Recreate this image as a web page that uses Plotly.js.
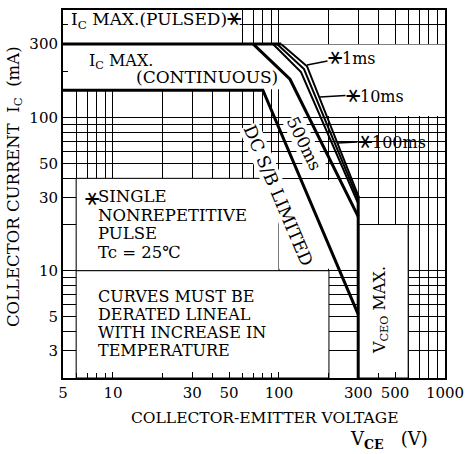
<!DOCTYPE html>
<html><head><meta charset="utf-8">
<script src="https://cdn.plot.ly/plotly-3.0.1.min.js"></script>
<style>html,body{margin:0;padding:0;background:#fff;}#chart{width:475px;height:454px;}</style>
</head><body><div id="chart"></div>
<script>
// ---- data (V in volts, I in mA) ----
const dcV = [5, 80, 300];
const dcI = [150, 150, 5.2];
const pulsedMaxV = [5, 103];
const pulsedMaxI = [300, 300];
const ms500V = [70, 116.5, 300];
const ms500I = [300, 177, 22.5];
const ms100V = [92, 135.7, 300];
const ms100I = [300, 197, 27.4];
const ms10V = [97.3, 141.5, 300];
const ms10I = [300, 206, 29.1];
const ms1V = [102.9, 147.5, 300];
const ms1I = [300, 215, 30.9];
const vceoV = [300, 300];
const vceoI = [2, 30.9];

const xTickVals = [5, 10, 30, 50, 100, 300, 500, 1000];
const xTickText = ['5', '10', '30', '50', '100', '300', '500', '1000'];
const xGrid = [5,6,7,8,9,10,20,30,40,50,60,70,80,90,100,200,300,400,500,600,700,800,900,1000];
const yTickVals = [3, 5, 10, 30, 50, 100, 300];
const yTickText = ['3', '5', '10', '30', '50', '100', '300'];
const yGrid = [2,3,4,5,6,7,8,9,10,20,30,40,50,60,70,80,90,100,200,300,400,500];

// ---- layout helpers ----
const W = 475, H = 454, M = {l:63, r:30, t:10, b:76};
const PW = W - M.l - M.r, PH = H - M.t - M.b;
const px = x => (x - M.l) / PW;
const py = y => (H - M.b - y) / PH;
const F = 'DejaVu Serif, Liberation Serif, serif';
const BLK = '#000';
const STAR = '<span style="font-size:24px">⚹</span>';

function fnt(s) { return {family:F, size:s, color:BLK}; }
function txt(text, x, y, o) {
  return Object.assign({xref:'paper', yref:'paper', x:px(x), y:py(y), text:text,
    showarrow:false, xanchor:'left', yanchor:'middle', borderpad:0,
    font:fnt(16)}, o || {});
}
// multi-line block: tight line pitch, larger glyphs
function block(lines, x, yFirst, pitch, size) {
  const base = pitch / 1.3;
  const text = lines.map(l => '<span style="font-size:' + size + 'px">' + l + '</span>').join('<br>');
  const yMid = yFirst + pitch * (lines.length - 1) / 2;
  return txt(text, x, yMid, {align:'left', font:fnt(base)});
}
function leader(text, tx, ty, cx, cy) {
  return {xref:'paper', yref:'paper', x:px(tx), y:py(ty), text:text,
    showarrow:true, arrowhead:0, arrowwidth:1.5, arrowcolor:BLK, standoff:0, borderpad:0,
    ax:cx - tx, ay:cy - ty, font:fnt(16)};
}
function box(x0, x1, y0, y1, border) {
  return {type:'rect', xref:'x', yref:'y', x0:x0, x1:x1, y0:y0, y1:y1, layer:'between',
    fillcolor:'#fff', line:{color:BLK, width: border ? 1 : 0}};
}
function line(v, i, w) {
  return {x:v, y:i, type:'scatter', mode:'lines', hoverinfo:'skip',
    line:{color:BLK, width:w}, showlegend:false};
}

const traces = [
  line(dcV, dcI, 3),
  line(pulsedMaxV, pulsedMaxI, 3),
  line(ms500V, ms500I, 3),
  line(ms100V, ms100I, 2),
  line(ms10V, ms10I, 2),
  line(ms1V, ms1I, 2),
  line(vceoV, vceoI, 3)
];

const axisCommon = {
  type:'log', tickmode:'array', ticks:'inside', ticklen:6, tickwidth:1, tickcolor:BLK,
  showgrid:true, gridcolor:BLK, gridwidth:1, showline:true, linewidth:2, linecolor:BLK,
  mirror:true, zeroline:false, fixedrange:true,
  tickfont:fnt(15)
};
const minorCommon = {tickmode:'array', ticks:'inside', ticklen:5, tickwidth:1, tickcolor:BLK,
  showgrid:true, gridcolor:BLK, gridwidth:1};

const layout = {
  width:W, height:H, margin:M, paper_bgcolor:'#fff', plot_bgcolor:'#fff',
  showlegend:false,
  xaxis:Object.assign({}, axisCommon, {range:[Math.log10(5), 3], tickvals:xTickVals, ticktext:xTickText,
    minor:Object.assign({}, minorCommon, {tickvals:xGrid})}),
  yaxis:Object.assign({}, axisCommon, {range:[Math.log10(2), Math.log10(500)], tickvals:yTickVals, ticktext:yTickText,
    minor:Object.assign({}, minorCommon, {tickvals:yGrid})}),
  shapes:[
    box(5, 58, 302, 500, false),
    box(5, 100, 152, 298, false),
    box(100, 1000, 102, 298, false),
    box(6, 100, 10, 40, true),
    box(100, 300, 10.3, 39, false),
    box(6, 200, 2, 10, true),
    box(300, 600, 2, 20, true)
  ],
  annotations:[
    txt('I<sub>C</sub> MAX.(PULSED)' + STAR, 70, 18, {font:fnt(17)}),
    txt('I<sub>C</sub> MAX.', 88, 61),
    txt('(CONTINUOUS)', 135, 77, {font:fnt(17)}),
    leader(STAR + '1ms', 307, 65, 352, 56),
    leader(STAR + '10ms', 320, 97, 375, 94),
    leader(STAR + '100ms', 337, 143, 392, 140),
    txt('500ms', 304, 143, {xanchor:'center', textangle:64, bgcolor:'#fff', font:fnt(17)}),
    txt('DC S/B LIMITED', 278, 195, {xanchor:'center', textangle:67, bgcolor:'#fff', font:fnt(17.5)}),
    txt(STAR, 84, 197),
    block(['SINGLE', 'NONREPETITIVE', 'PULSE', 'Tc = 25℃'], 97, 197, 18.5, 16.5),
    block(['CURVES MUST BE', 'DERATED LINEAL', 'WITH INCREASE IN', 'TEMPERATURE'], 97, 296, 18, 16),
    txt('V<sub>CEO</sub> MAX.', 380, 310, {xanchor:'center', textangle:-90}),
    txt('COLLECTOR CURRENT  I<sub>C</sub>  (mA)', 14, 187, {xanchor:'center', textangle:-90, font:fnt(16.5)}),
    txt('COLLECTOR-EMITTER VOLTAGE', 265, 418, {xanchor:'center', font:fnt(15.5)}),
    txt('V<sub><b>CE</b></sub>   (V)', 389, 440, {xanchor:'center', font:fnt(18)})
  ]
};

Plotly.newPlot('chart', traces, layout, {staticPlot:true, displayModeBar:false});
</script></body></html>
